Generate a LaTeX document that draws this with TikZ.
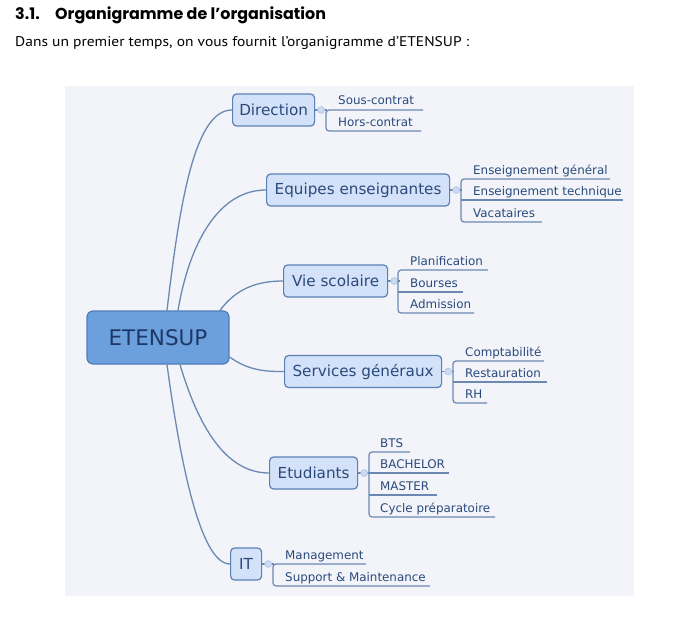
\documentclass[tikz,border=0pt]{standalone}
\usepackage{fontspec}
\usepackage{graphicx}
\usetikzlibrary{backgrounds}
\setmainfont{DejaVu Sans}
\newfontfamily\titlefont{Poppins}
\newfontfamily\subfont{PT Sans}
\definecolor{panel}{HTML}{F2F4F9}
\definecolor{linec}{HTML}{6B88B2}
\definecolor{rootfill}{HTML}{6CA0DC}
\definecolor{rootdraw}{HTML}{4F7EB8}
\definecolor{kidfill}{HTML}{D4E2F9}
\definecolor{kiddraw}{HTML}{5B80B3}
\definecolor{txt}{HTML}{2A4A7C}
\definecolor{txtdark}{HTML}{1C3866}
\definecolor{dotfill}{HTML}{CCDAF0}
\definecolor{dotdraw}{HTML}{B3C6E3}
\tikzset{
  rootbox/.style={draw=rootdraw, fill=rootfill, line width=1.2bp, rounded corners=6bp,
    minimum width=142bp, minimum height=53bp, inner sep=0pt,
    font=\fontsize{21.5bp}{24bp}\selectfont, text=txtdark},
  kid/.style={draw=kiddraw, fill=kidfill, line width=1.2bp, rounded corners=4bp,
    minimum height=32bp, inner sep=0pt, anchor=west,
    font=\fontsize{15.2bp}{18bp}\selectfont, text=txt},
  item/.style={anchor=base west, inner sep=0pt, font=\fontsize{11.9bp}{14bp}\selectfont, text=txt},
  link/.style={draw=linec, line width=1.3bp},
  uline/.style={draw=linec, line width=1.2bp, rounded corners=3bp},
  dot/.style={circle, draw=dotdraw, fill=dotfill, minimum size=7bp, inner sep=0pt, line width=0.6bp},
  hdr/.style={anchor=base west, inner sep=0pt}
}
\begin{document}
\begin{tikzpicture}[x=1bp,y=-1bp]
\useasboundingbox (0,0) rectangle (676,630);
% header
\node[hdr, font=\titlefont\bfseries\fontsize{15.9bp}{18bp}\selectfont] (num) at (15,20) {3.1.};
\node[hdr, font=\titlefont\bfseries\fontsize{15.9bp}{18bp}\selectfont] (ttl) at (55,20) {Organigramme de l’organisation};
\node[hdr, font=\subfont\fontsize{13bp}{16bp}\selectfont] (sub) at (15,47) {\resizebox{454bp}{10bp}{Dans un premier temps, on vous fournit l’organigramme d’ETENSUP :}};
% nodes
\node[rootbox] (root) at (158,337.5) {ETENSUP};
\node[kid, minimum width=82bp] (dir) at (232,110) {Direction};
\node[kid, minimum width=183bp] (equ) at (266,190) {Equipes enseignantes};
\node[kid, minimum width=104bp] (vie) at (283,281) {Vie scolaire};
\node[kid, minimum width=157bp] (ser) at (284,371.5) {Services généraux};
\node[kid, minimum width=88bp] (etu) at (269,473) {Etudiants};
\node[kid, minimum width=31bp] (it) at (230,564) {IT};
% panel and main connectors behind the boxes
\begin{scope}[on background layer]
\fill[white] (0,0) rectangle (676,630);
\fill[panel] (65,86) rectangle (634,596);
\draw[link] ([xshift=9bp]root.north) .. controls (180,200) and (195,110) .. (dir.west);
\draw[link] ([xshift=20bp]root.north) .. controls (190,240) and (220,190) .. (equ.west);
\draw[link] ([xshift=62bp]root.north) .. controls (235,290) and (255,281) .. (vie.west);
\draw[link] ([yshift=-19.5bp]root.east) .. controls (245,368) and (260,372) .. (ser.west);
\draw[link] ([xshift=22bp]root.south) .. controls (198,425) and (225,473) .. (etu.west);
\draw[link] ([xshift=9bp]root.south) .. controls (180,460) and (200,564) .. (it.west);
\end{scope}
% Direction
\draw[link] (dir.east) -- ++(12,0) coordinate (bd);
\node[dot] (dd) at ([xshift=6bp]dir.east) {};
\draw[uline] (423,110) -- (326,110) -- (326,131) -- (421,131);
\node[item] (d1) at (338,105) {Sous-contrat};
\node[item] (d2) at (338,126.5) {Hors-contrat};
% Equipes
\draw[link] (equ.east) -- ++(12,0) coordinate (be);
\node[dot] (de) at ([xshift=6bp]equ.east) {};
\draw[uline] (610,179) -- (461,179) -- (461,222) -- (542,222);
\draw[link] (461,200) -- (623,200);
\node[item] (e1) at (473,174.5) {Enseignement général};
\node[item] (e2) at (473,195.5) {Enseignement technique};
\node[item] (e3) at (473,217.5) {Vacataires};
% Vie scolaire
\draw[link] (vie.east) -- ++(12,0) coordinate (bv);
\node[dot] (dv) at ([xshift=6bp]vie.east) {};
\draw[uline] (488,270) -- (398,270) -- (398,313) -- (474,313);
\draw[link] (398,292) -- (463,292);
\node[item] (v1) at (410,265.5) {Planification};
\node[item] (v2) at (410,287.5) {Bourses};
\node[item] (v3) at (410,308.5) {Admission};
% Services
\draw[link] (ser.east) -- ++(12,0) coordinate (bs);
\node[dot] (ds) at ([xshift=6bp]ser.east) {};
\draw[uline] (544,361) -- (453,361) -- (453,403) -- (487,403);
\draw[link] (453,382) -- (547,382);
\node[item] (s1) at (465,356.5) {Comptabilité};
\node[item] (s2) at (465,377.5) {Restauration};
\node[item] (s3) at (465,398.5) {RH};
% Etudiants
\draw[link] (etu.east) -- ++(12,0) coordinate (bt);
\node[dot] (dt) at ([xshift=6bp]etu.east) {};
\draw[uline] (410,452) -- (369,452) -- (369,517) -- (495,517);
\draw[link] (369,473) -- (449,473);
\draw[link] (369,495) -- (437,495);
\node[item] (t1) at (380,447.5) {BTS};
\node[item] (t2) at (380,468.5) {BACHELOR};
\node[item] (t3) at (380,490.5) {MASTER};
\node[item] (t4) at (380,512.5) {Cycle préparatoire};
% IT
\draw[link] (it.east) -- ++(12,0) coordinate (bi);
\node[dot] (di) at ([xshift=6bp]it.east) {};
\draw[uline] (366,564) -- (273,564) -- (273,586) -- (430,586);
\node[item] (i1) at (285,559.5) {Management};
\node[item] (i2) at (285,581.5) {Support \& Maintenance};
\end{tikzpicture}
\end{document}
